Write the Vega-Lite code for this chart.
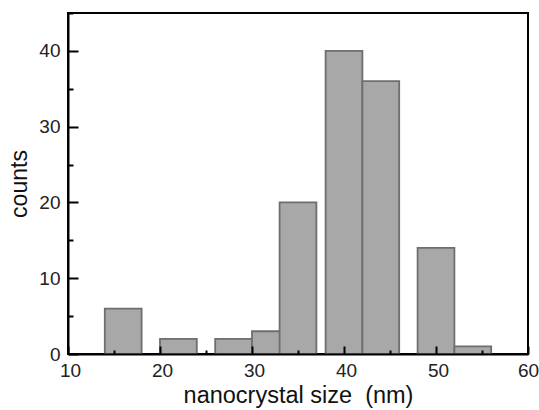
{
  "$schema": "https://vega.github.io/schema/vega-lite/v6.json",
  "width": 460,
  "height": 341,
  "autosize": "none",
  "padding": {"left": 68, "top": 13, "right": 11, "bottom": 56},
  "background": "white",
  "config": {
    "view": {"stroke": "black", "strokeWidth": 2},
    "font": "Liberation Sans"
  },
  "data": {
    "values": [
      {"start": 14, "end": 18, "count": 6},
      {"start": 20, "end": 24, "count": 2},
      {"start": 26, "end": 30, "count": 2},
      {"start": 30, "end": 34, "count": 3},
      {"start": 33, "end": 37, "count": 20},
      {"start": 38, "end": 42, "count": 40},
      {"start": 42, "end": 46, "count": 36},
      {"start": 48, "end": 52, "count": 14},
      {"start": 52, "end": 56, "count": 1}
    ]
  },
  "mark": {"type": "rect", "fill": "#a8a8a8", "stroke": "#6e6e6e", "strokeWidth": 1.8},
  "encoding": {
    "x": {
      "field": "start",
      "type": "quantitative",
      "scale": {"domain": [10, 60], "nice": false},
      "axis": {
        "title": "nanocrystal size \u00a0(nm)",
        "values": [10, 15, 20, 25, 30, 35, 40, 45, 50, 55, 60],
        "labelExpr": "datum.value % 10 === 0 ? datum.label : ''",
        "grid": false,
        "domainColor": "black",
        "domainWidth": 2,
        "tickColor": "black",
        "tickWidth": 2,
        "tickSize": {"condition": {"test": "datum.value % 10 === 0", "value": -8}, "value": -4},
        "labelFontSize": 19,
        "labelColor": "#222",
        "labelPadding": 15,
        "labelOffset": {"condition": {"test": "datum.value === 60", "value": 0}, "value": 2},
        "labelFlush": false,
        "titleFontSize": 23.5,
        "titleFontWeight": "normal",
        "titleColor": "#111",
        "titlePadding": 3,
        "zindex": 1
      }
    },
    "x2": {"field": "end"},
    "y": {
      "field": "count",
      "type": "quantitative",
      "scale": {"domain": [0, 45], "nice": false},
      "axis": {
        "title": "counts",
        "values": [0, 5, 10, 15, 20, 25, 30, 35, 40, 45],
        "labelExpr": "datum.value % 10 === 0 ? datum.label : ''",
        "grid": false,
        "domainColor": "black",
        "domainWidth": 2,
        "tickColor": "black",
        "tickWidth": 2,
        "tickSize": {"condition": {"test": "datum.value % 10 === 0", "value": -10}, "value": -5},
        "labelFontSize": 19,
        "labelColor": "#222",
        "labelPadding": 18,
        "labelFlush": false,
        "titleFontSize": 23,
        "titleFontWeight": "normal",
        "titleColor": "#111",
        "titlePadding": 7,
        "zindex": 1
      }
    },
    "y2": {"datum": 0}
  }
}
